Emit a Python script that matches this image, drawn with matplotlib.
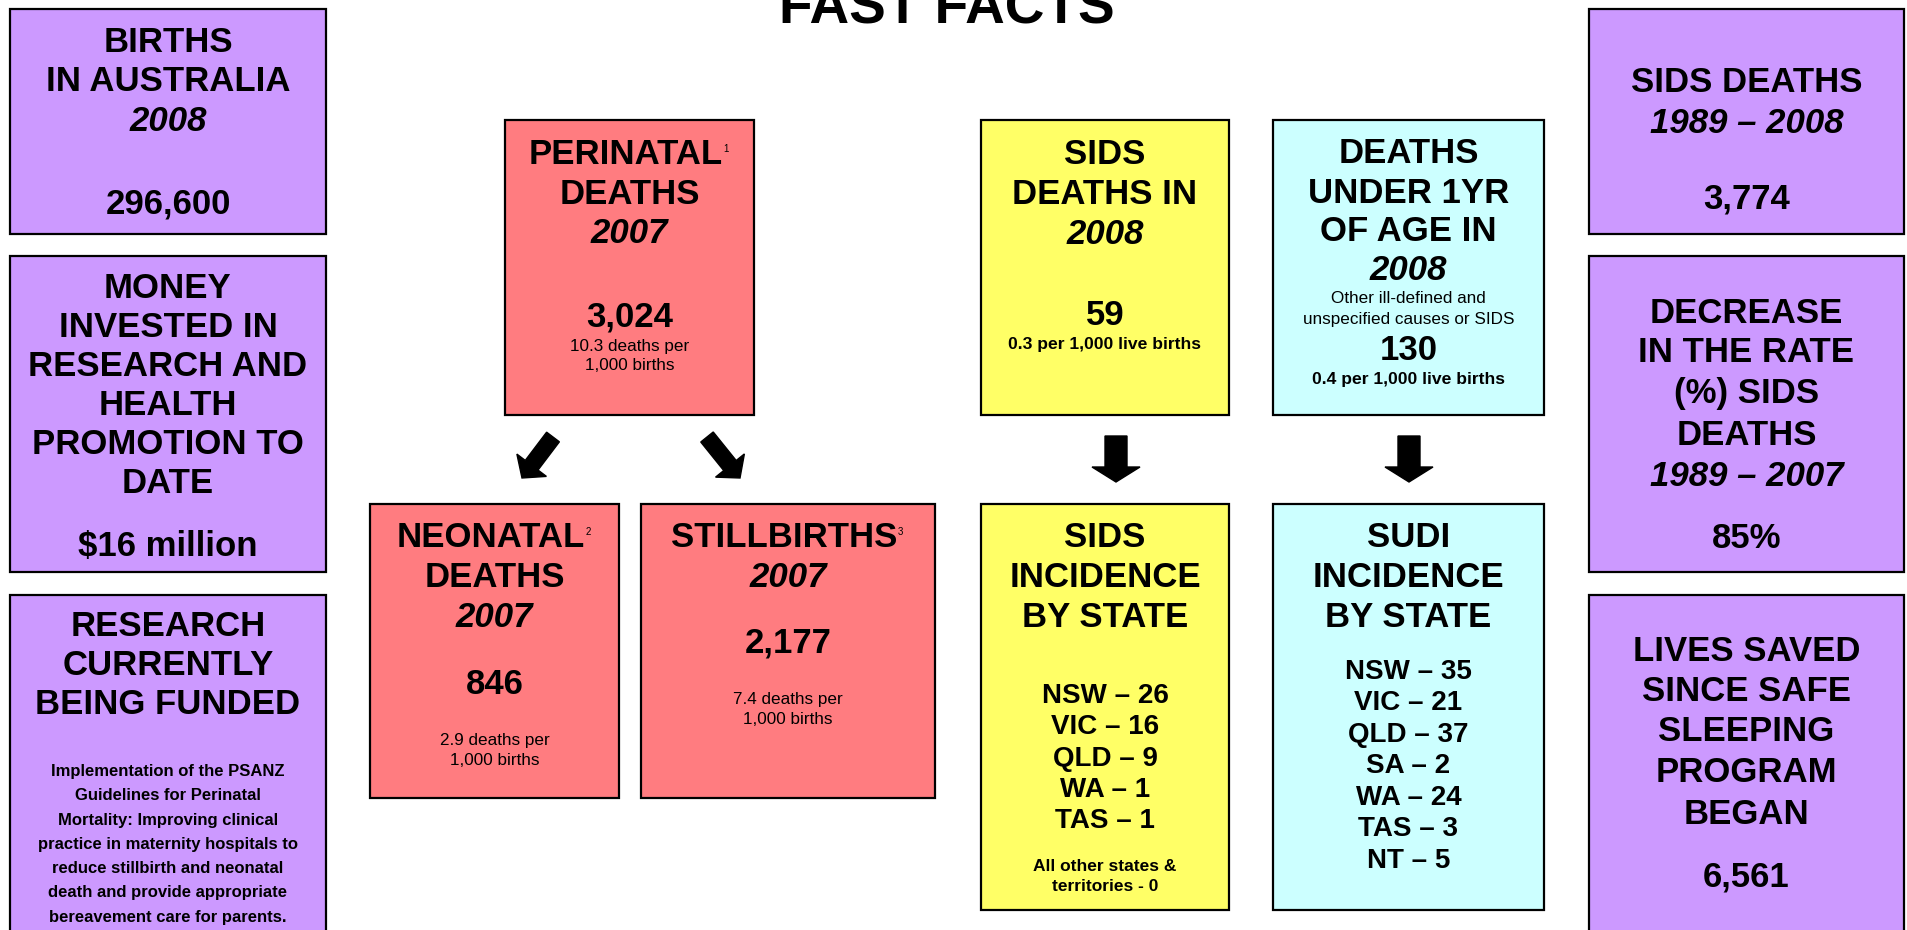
import matplotlib.pyplot as plt
from matplotlib.patches import Rectangle, FancyArrow
from matplotlib import font_manager

# ---------------- content ----------------
title = "FAST FACTS"

births_2008 = 296600
money_invested_m = 16
research_lines = [
    "Implementation of the PSANZ",
    "Guidelines for Perinatal",
    "Mortality: Improving clinical",
    "practice in maternity hospitals to",
    "reduce stillbirth and neonatal",
    "death and provide appropriate",
    "bereavement care for parents.",
]

perinatal_deaths = 3024
perinatal_rate = 10.3
neonatal_deaths = 846
neonatal_rate = 2.9
stillbirths = 2177
stillbirth_rate = 7.4

sids_deaths_2008 = 59
sids_rate_2008 = 0.3
under1_deaths_2008 = 130
under1_rate_2008 = 0.4

sids_states = ["NSW", "VIC", "QLD", "WA", "TAS"]
sids_counts = [26, 16, 9, 1, 1]
sudi_states = ["NSW", "VIC", "QLD", "SA", "WA", "TAS", "NT"]
sudi_counts = [35, 21, 37, 2, 24, 3, 5]

sids_total_1989_2008 = 3774
sids_rate_drop_pct = 85
lives_saved = 6561

PURPLE = "#CC99FF"
RED = "#FF7C80"
YELLOW = "#FFFF66"
CYAN = "#CCFFFF"

SANS = "Liberation Sans"
try:
    font_manager.findfont("Liberation Sans Narrow", fallback_to_default=False)
    NARROW = "Liberation Sans Narrow"
    NARROW_SIZE = 14.3
except ValueError:
    NARROW = SANS
    NARROW_SIZE = 12

# ---------------- figure, pixel coordinates ----------------
W, H = 1908, 930
fig = plt.figure(figsize=(W / 100, H / 100), dpi=100)
ax = fig.add_axes([0, 0, 1, 1])
ax.set_xlim(0, W)
ax.set_ylim(H, 0)
ax.axis("off")


def box(x0, y0, x1, y1, color):
    ax.add_patch(Rectangle((x0, y0), x1 - x0, y1 - y0, facecolor=color,
                           edgecolor="black", lw=1.6, zorder=1))


def line(x, y, s, size=25, style="normal", weight="bold", family=SANS):
    # y is the middle of the capitals; place by baseline
    cap = 0.716 * size * 100 / 72
    return ax.text(x, y + cap / 2, s, ha="center", va="baseline", fontsize=size,
                   fontstyle=style, fontweight=weight, family=family, zorder=3)


def sup(artist, s):
    ax.annotate(s, xy=(1.0, 0.82), xycoords=artist, xytext=(0.5, 0),
                textcoords="offset points", ha="left", va="top",
                fontsize=7, family=SANS, zorder=3)


def arrow(x, y, dx, dy, w=20, hw=46, hl=16):
    ax.add_patch(FancyArrow(x, y, dx, dy, width=w, head_width=hw, head_length=hl,
                            length_includes_head=True, color="black", zorder=2))


# title (cut by the top edge, as in the original sheet)
ax.text(947, 24, title, ha="center", va="baseline", fontsize=39.5,
        fontweight="bold", family=SANS)

# ---- left column ----
cx = 168
box(10, 9, 326, 234, PURPLE)
line(cx, 40, "BIRTHS")
line(cx, 79, "IN AUSTRALIA")
line(cx, 119, "2008", style="italic")
line(cx, 201, f"{births_2008:,}")

box(10, 256, 326, 572, PURPLE)
for y, s in zip([286, 325, 364, 403, 442, 481],
                ["MONEY", "INVESTED IN", "RESEARCH AND", "HEALTH", "PROMOTION TO", "DATE"]):
    line(cx, y, s)
line(cx, 544, f"${money_invested_m} million")

box(10, 595, 326, 945, PURPLE)
line(cx, 624, "RESEARCH")
line(cx, 663, "CURRENTLY")
line(cx, 702, "BEING FUNDED")
for i, s in enumerate(research_lines):
    line(cx, 770 + i * 24.3, s, size=NARROW_SIZE, family=NARROW)

# ---- perinatal tree ----
px = 629.5
box(505, 120, 754, 415, RED)
t = line(px - 4, 152, "PERINATAL")
sup(t, "1")
line(px, 192, "DEATHS")
line(px, 231, "2007", style="italic")
line(px, 314, f"{perinatal_deaths:,}")
line(px, 345, f"{perinatal_rate} deaths per", size=12.3, weight="normal")
line(px, 364, "1,000 births", size=12.3, weight="normal")

arrow(553, 437, -31, 41, w=16, hw=37, hl=16)
arrow(707, 437, 33, 41, w=16, hw=37, hl=16)

nx = 494.5
box(370, 504, 619, 798, RED)
t = line(nx - 4, 535, "NEONATAL")
sup(t, "2")
line(nx, 575, "DEATHS")
line(nx, 615, "2007", style="italic")
line(nx, 682, f"{neonatal_deaths:,}")
line(nx, 739, f"{neonatal_rate} deaths per", size=12.3, weight="normal")
line(nx, 759, "1,000 births", size=12.3, weight="normal")

sx = 788
box(641, 504, 935, 798, RED)
t = line(sx - 4, 535, "STILLBIRTHS")
sup(t, "3")
line(sx, 575, "2007", style="italic")
line(sx, 640, f"{stillbirths:,}")
line(sx, 698, f"{stillbirth_rate} deaths per", size=12.3, weight="normal")
line(sx, 718, "1,000 births", size=12.3, weight="normal")

# ---- SIDS / under 1yr ----
dx_ = 1105
box(981, 120, 1229, 415, YELLOW)
line(dx_, 152, "SIDS")
line(dx_, 192, "DEATHS IN")
line(dx_, 232, "2008", style="italic")
line(dx_, 313, f"{sids_deaths_2008}")
line(dx_, 343, f"{sids_rate_2008} per 1,000 live births", size=12.6)

ux = 1408.5
box(1273, 120, 1544, 415, CYAN)
line(ux, 151, "DEATHS")
line(ux, 191, "UNDER 1YR")
line(ux, 229, "OF AGE IN")
line(ux, 268, "2008", style="italic")
line(ux, 297, "Other ill-defined and", size=12.3, weight="normal")
line(ux, 318, "unspecified causes or SIDS", size=12.3, weight="normal")
line(ux, 348, f"{under1_deaths_2008}")
line(ux, 378, f"{under1_rate_2008} per 1,000 live births", size=12.6)

arrow(1116, 436, 0, 46, w=22, hw=48, hl=15)
arrow(1409, 436, 0, 46, w=22, hw=48, hl=15)

box(981, 504, 1229, 910, YELLOW)
line(dx_, 535, "SIDS")
line(dx_, 575, "INCIDENCE")
line(dx_, 615, "BY STATE")
for i, (st, n) in enumerate(zip(sids_states, sids_counts)):
    line(dx_, 693 + i * 31.3, f"{st} \u2013 {n}", size=20)
line(dx_, 865, "All other states &", size=12.5)
line(dx_, 885, "territories - 0", size=12.5)

box(1273, 504, 1544, 910, CYAN)
line(ux, 535, "SUDI")
line(ux, 575, "INCIDENCE")
line(ux, 615, "BY STATE")
for i, (st, n) in enumerate(zip(sudi_states, sudi_counts)):
    line(ux, 669 + i * 31.5, f"{st} \u2013 {n}", size=20)

# ---- right column ----
rx = 1746.5
box(1589, 9, 1904, 234, PURPLE)
line(rx, 80, "SIDS DEATHS")
line(rx, 121, "1989 \u2013 2008", style="italic")
line(rx, 196, f"{sids_total_1989_2008:,}")

box(1589, 256, 1904, 572, PURPLE)
for y, s in zip([311, 350, 391, 433], ["DECREASE", "IN THE RATE", "(%) SIDS", "DEATHS"]):
    line(rx, y, s)
line(rx, 474, "1989 \u2013 2007", style="italic")
line(rx, 536, f"{sids_rate_drop_pct}%")

box(1589, 595, 1904, 945, PURPLE)
for y, s in zip([649, 689, 729, 770, 812],
                ["LIVES SAVED", "SINCE SAFE", "SLEEPING", "PROGRAM", "BEGAN"]):
    line(rx, y, s)
line(rx, 874, f"{lives_saved:,}")

fig.savefig("out.png", dpi=100)
